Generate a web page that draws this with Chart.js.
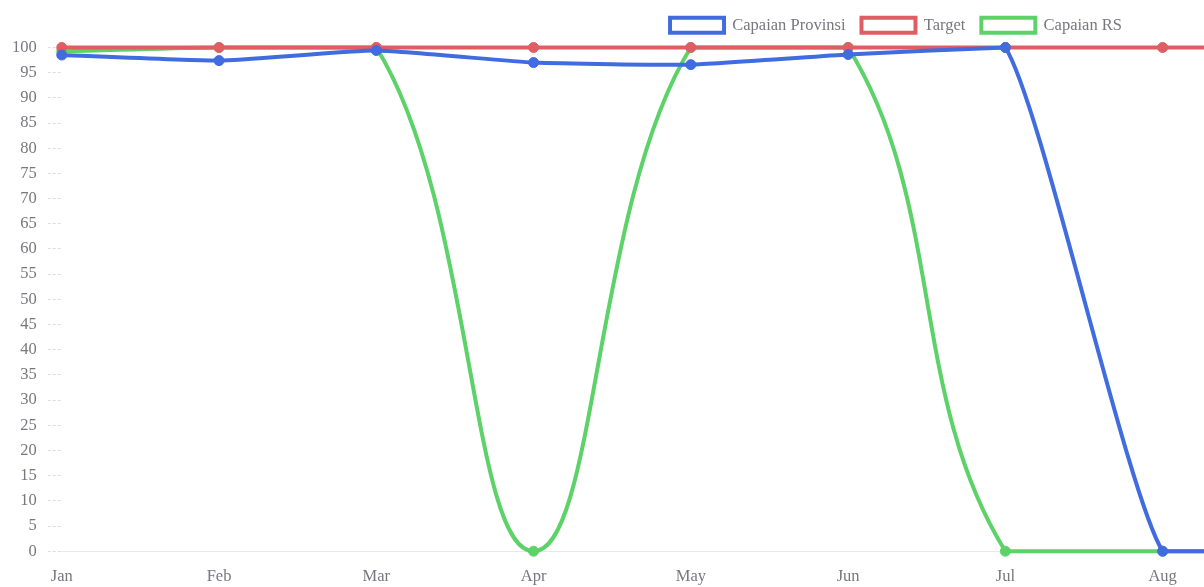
<!DOCTYPE html>
<html>
<head>
<meta charset="utf-8">
<script src="https://cdn.jsdelivr.net/npm/chart.js@4/dist/chart.umd.min.js"></script>
<style>
  html, body { margin: 0; padding: 0; overflow: hidden; background: #fff; }
  #wrap { position: relative; width: 1813px; height: 595px; }
</style>
</head>
<body>
<div id="wrap"><canvas id="chart"></canvas></div>
<script>
// Monthly achievement figures (percent)
const months = ['Jan', 'Feb', 'Mar', 'Apr', 'May', 'Jun', 'Jul', 'Aug', 'Sep', 'Oct', 'Nov', 'Dec'];
const capaianProvinsi = [98.5, 97.4, 99.4, 97.0, 96.6, 98.6, 100, 0, 0, 0, 0, 0];
const target = [100, 100, 100, 100, 100, 100, 100, 100, 100, 100, 100, 100];
const capaianRS = [99.2, 100, 100, 0, 100, 100, 0, 0, 0, 0, 0, 0];

const FONT = { family: "'Liberation Serif', 'Times New Roman', serif", size: 16.5 };
const TEXT = '#77777f';

function series(label, values, color, tension) {
  return {
    label: label,
    data: values,
    borderColor: color,
    backgroundColor: 'rgba(255,255,255,0)',
    pointBackgroundColor: color,
    pointBorderColor: color,
    tension: tension,
    clip: false
  };
}

// A little extra room under the legend and a slight leftward nudge of its items
const legendSpacing = {
  id: 'legendSpacing',
  afterInit(chart) {
    const legend = chart.legend;
    if (!legend) return;
    const fit = legend.fit;
    legend.fit = function () {
      fit.call(this);
      this.height += 4;
    };
  },
  afterLayout(chart) {
    if (chart.legend) chart.legend.right -= 22;
  }
};

new Chart(document.getElementById('chart'), {
  type: 'line',
  data: {
    labels: months,
    datasets: [
      series('Capaian Provinsi', capaianProvinsi, 'rgb(65,108,224)', 0.15),
      series('Target', target, 'rgb(222,94,100)', 0.4),
      series('Capaian RS', capaianRS, 'rgb(92,210,104)', 0.4)
    ]
  },
  plugins: [legendSpacing],
  options: {
    responsive: true,
    maintainAspectRatio: false,
    animation: false,
    layout: { padding: { top: 1, left: 1, right: 0, bottom: 0 } },
    elements: {
      line: { borderWidth: 4, fill: false },
      point: { radius: 5, borderWidth: 1 }
    },
    plugins: {
      legend: {
        display: true,
        position: 'top',
        labels: {
          boxWidth: 54,
          boxHeight: 15,
          color: TEXT,
          font: FONT,
          padding: 16
        }
      },
      tooltip: { enabled: false }
    },
    scales: {
      x: {
        grid: { display: false },
        border: { display: true, color: 'rgba(0,0,0,0.09)', dash: [2, 3], width: 1 },
        ticks: { color: TEXT, font: FONT, padding: 8, maxRotation: 0 }
      },
      y: {
        min: 0,
        max: 100,
        border: { display: false },
        grid: {
          drawOnChartArea: false,
          drawTicks: true,
          tickLength: 14,
          tickColor: 'rgba(0,0,0,0.13)',
          tickBorderDash: [3, 2],
          color: 'rgba(0,0,0,0.13)'
        },
        ticks: { stepSize: 5, color: TEXT, font: FONT, padding: 11 }
      }
    }
  }
});
</script>
</body>
</html>
